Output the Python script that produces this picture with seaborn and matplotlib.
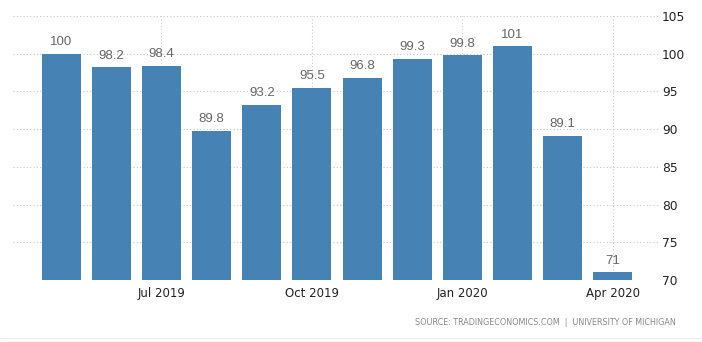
import matplotlib
matplotlib.use("Agg")
import matplotlib.pyplot as plt
import seaborn as sns
import pandas as pd

# Monthly consumer sentiment index, May 2019 - Apr 2020
months = ["May 2019", "Jun 2019", "Jul 2019", "Aug 2019", "Sep 2019", "Oct 2019",
          "Nov 2019", "Dec 2019", "Jan 2020", "Feb 2020", "Mar 2020", "Apr 2020"]
values = [100, 98.2, 98.4, 89.8, 93.2, 95.5, 96.8, 99.3, 99.8, 101, 89.1, 71]
value_labels = ["100", "98.2", "98.4", "89.8", "93.2", "95.5", "96.8", "99.3",
                "99.8", "101", "89.1", "71"]
tick_months = ["Jul 2019", "Oct 2019", "Jan 2020", "Apr 2020"]
y_ticks = [70, 75, 80, 85, 90, 95, 100, 105]

df = pd.DataFrame({"month": months, "value": values})

sns.set_style("white")
plt.rcParams["font.family"] = ["DejaVu Sans"]

fig = plt.figure(figsize=(7.02, 3.42), dpi=100)
ax = fig.add_axes([0.0185, 0.1813, 0.9188, 0.7719])

sns.barplot(data=df, x="month", y="value", order=months, color="#4682b4",
            saturation=1, width=0.78, linewidth=0, ax=ax, zorder=3)

ax.set_ylim(70, 105)
ax.set_xlim(-0.96, 11.9)

# grid lines
grid_kw = dict(color="#c8c8c8", linestyle=(0, (1, 2)), linewidth=0.8, zorder=1)
for y in y_ticks:
    ax.axhline(y, **grid_kw)
tick_pos = [months.index(m) for m in tick_months]
for x in tick_pos:
    ax.axvline(x, **grid_kw)

# value labels above bars
for i, (v, lab) in enumerate(zip(values, value_labels)):
    ax.text(i, v + 0.75, lab, ha="center", va="bottom", fontsize=9.5,
            color="#666666", family=["Liberation Sans", "DejaVu Sans"], zorder=4)

ax.set_xticks(tick_pos)
ax.set_xticklabels(tick_months, fontsize=8.5, color="#222222")
ax.yaxis.tick_right()
ax.set_yticks(y_ticks)
ax.set_yticklabels([str(t) for t in y_ticks], fontsize=8.8, color="#222222")
ax.tick_params(axis="x", length=4, color="#c8c8c8", pad=1)
ax.tick_params(axis="y", length=0, pad=3)
ax.set_xlabel("")
ax.set_ylabel("")
for s in ax.spines.values():
    s.set_visible(False)

fig.text(0.963, 0.057, "SOURCE: TRADINGECONOMICS.COM  |  UNIVERSITY OF MICHIGAN",
         ha="right", va="center", fontsize=5.8, color="#888888")

fig.add_artist(plt.Line2D([0, 1], [0.012, 0.012], color="#eeeeee", linewidth=1,
                          transform=fig.transFigure))

fig.savefig("out.png", dpi=100)
